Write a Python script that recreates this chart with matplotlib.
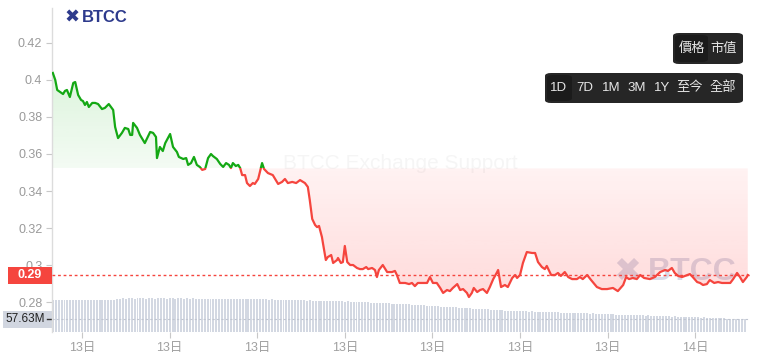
import numpy as np
import matplotlib
matplotlib.use("Agg")
import matplotlib.pyplot as plt
import matplotlib.transforms as mtrans
from matplotlib.patches import Rectangle, FancyBboxPatch
from matplotlib.colors import to_rgb

plt.rcParams['font.family'] = ['Liberation Sans', 'Noto Sans CJK TC', 'DejaVu Sans']

# ---------------- data ----------------
# minutes since 13日 00:00
times = [120, 125, 129, 135, 141, 145, 149, 155, 162, 166,
         172, 178, 182, 186, 190, 194, 201, 207, 213, 221,
         227, 235, 244, 248, 254, 262, 268, 275, 279, 283,
         285, 293, 299, 309, 314, 320, 326, 332, 334, 340,
         346, 351, 361, 367, 375, 379, 388, 394, 398, 404,
         410, 416, 422, 427, 433, 439, 445, 449, 457, 464,
         470, 476, 482, 486, 490, 496, 501, 505, 509, 515,
         519, 525, 531, 535, 542, 550, 554, 562, 572, 583,
         591, 597, 603, 612, 620, 628, 634, 638, 644, 648,
         653, 659, 663, 667, 673, 675, 681, 685, 692, 696,
         704, 706, 712, 716, 720, 725, 731, 737, 745, 751,
         757, 764, 768, 776, 782, 786, 790, 798, 807, 817,
         823, 827, 833, 844, 852, 858, 864, 870, 881, 889,
         895, 901, 909, 916, 922, 930, 936, 942, 951, 957,
         963, 971, 975, 981, 985, 992, 998, 1004, 1012, 1018,
         1025, 1033, 1035, 1041, 1049, 1055, 1064, 1070, 1074, 1080,
         1086, 1094, 1105, 1111, 1117, 1125, 1131, 1135, 1144, 1152,
         1158, 1164, 1172, 1179, 1187, 1197, 1203, 1209, 1218, 1226,
         1238, 1248, 1259, 1271, 1281, 1292, 1298, 1304, 1312, 1320,
         1327, 1335, 1347, 1357, 1368, 1378, 1384, 1392, 1398, 1405,
         1413, 1419, 1429, 1435, 1444, 1450, 1456, 1464, 1470, 1479,
         1487, 1495, 1505, 1512, 1518, 1526, 1532, 1538, 1546, 1548]

prices = [0.4038, 0.4000, 0.3946, 0.3935, 0.3924, 0.3941, 0.3946, 0.3908, 0.3984, 0.3989,
          0.3919, 0.3892, 0.3886, 0.3865, 0.3881, 0.3854, 0.3876, 0.3876, 0.3870, 0.3843,
          0.3849, 0.3870, 0.3838, 0.3746, 0.3686, 0.3714, 0.3741, 0.3735, 0.3703, 0.3703,
          0.3768, 0.3741, 0.3703, 0.3659, 0.3686, 0.3719, 0.3714, 0.3692, 0.3578, 0.3638,
          0.3616, 0.3659, 0.3708, 0.3638, 0.3611, 0.3584, 0.3573, 0.3578, 0.3541, 0.3551,
          0.3584, 0.3541, 0.3530, 0.3514, 0.3519, 0.3578, 0.3600, 0.3589, 0.3573, 0.3546,
          0.3530, 0.3551, 0.3541, 0.3524, 0.3551, 0.3535, 0.3541, 0.3524, 0.3486, 0.3486,
          0.3443, 0.3427, 0.3443, 0.3438, 0.3465, 0.3551, 0.3519, 0.3497, 0.3486, 0.3438,
          0.3449, 0.3465, 0.3443, 0.3449, 0.3443, 0.3459, 0.3449, 0.3443, 0.3422, 0.3351,
          0.3249, 0.3216, 0.3205, 0.3211, 0.3151, 0.3119, 0.3027, 0.3043, 0.3054, 0.3011,
          0.3027, 0.3038, 0.3011, 0.3016, 0.3103, 0.3016, 0.3000, 0.3000, 0.2984, 0.2978,
          0.2978, 0.2989, 0.2978, 0.2984, 0.2973, 0.2935, 0.2973, 0.3000, 0.2962, 0.2962,
          0.2968, 0.2946, 0.2903, 0.2903, 0.2897, 0.2903, 0.2886, 0.2903, 0.2903, 0.2903,
          0.2935, 0.2903, 0.2903, 0.2876, 0.2849, 0.2865, 0.2859, 0.2876, 0.2897, 0.2865,
          0.2870, 0.2849, 0.2827, 0.2849, 0.2876, 0.2854, 0.2865, 0.2870, 0.2849, 0.2881,
          0.2924, 0.2962, 0.2973, 0.2881, 0.2892, 0.2881, 0.2930, 0.2946, 0.2930, 0.2946,
          0.3011, 0.3070, 0.3065, 0.3065, 0.3016, 0.2989, 0.2978, 0.2995, 0.2946, 0.2946,
          0.2957, 0.2941, 0.2962, 0.2935, 0.2924, 0.2924, 0.2935, 0.2924, 0.2946, 0.2919,
          0.2881, 0.2870, 0.2870, 0.2876, 0.2859, 0.2892, 0.2935, 0.2924, 0.2930, 0.2924,
          0.2946, 0.2930, 0.2924, 0.2935, 0.2962, 0.2973, 0.2968, 0.2984, 0.2957, 0.2941,
          0.2935, 0.2941, 0.2951, 0.2935, 0.2908, 0.2903, 0.2892, 0.2897, 0.2919, 0.2903,
          0.2908, 0.2903, 0.2903, 0.2903, 0.2924, 0.2957, 0.2935, 0.2908, 0.2935, 0.2946]

baseline = 0.3522
last_price = 0.2946
last_label = "0.29"

vol_start = 120   # minutes
vol_step = 6      # minutes per bar
volumes = [70.4, 70.6, 70.5, 70.3, 70.6, 70.5, 70.4, 70.7, 70.5, 70.4,
           70.6, 70.5, 70.3, 70.5, 70.6, 70.4, 70.5, 70.7, 70.6, 70.5,
           70.6, 70.8, 71.0, 71.5, 71.6, 71.4, 71.7, 71.6, 71.5, 71.7,
           71.6, 71.8, 71.5, 71.6, 71.7, 71.5, 71.6, 71.8, 71.6, 71.5,
           71.7, 71.6, 71.5, 71.7, 71.6, 71.4, 71.6, 71.5, 71.7, 71.5,
           71.4, 71.3, 71.2, 71.3, 71.1, 71.2, 71.3, 71.2, 71.0, 71.2,
           71.1, 71.3, 71.2, 71.0, 71.2, 71.1, 71.2, 71.0, 71.1, 71.2,
           71.0, 71.1, 70.9, 71.0, 70.8, 70.9, 70.7, 70.8, 70.7, 70.6,
           70.7, 70.5, 70.6, 70.4, 70.5, 70.3, 70.4, 70.2, 70.3, 70.2,
           70.1, 70.2, 70.0, 70.1, 69.9, 70.0, 69.8, 69.9, 69.7, 69.6,
           69.5, 69.6, 69.3, 69.4, 69.2, 69.1, 69.2, 68.9, 69.0, 68.8,
           68.7, 68.8, 68.5, 68.6, 68.3, 68.4, 68.2, 68.0, 68.1, 67.8,
           67.9, 67.6, 67.7, 67.4, 67.3, 67.4, 67.1, 67.0, 66.8, 66.7,
           66.6, 66.4, 66.5, 66.2, 66.1, 65.9, 66.0, 65.7, 65.6, 65.4,
           65.5, 65.2, 65.1, 65.0, 64.8, 64.9, 64.6, 64.5, 64.3, 64.4,
           64.1, 64.0, 63.8, 63.6, 63.7, 63.5, 63.4, 63.5, 63.3, 63.2,
           63.3, 63.1, 63.0, 62.9, 63.0, 62.8, 62.7, 62.8, 62.6, 62.5,
           62.6, 62.4, 62.3, 62.4, 62.2, 62.1, 62.2, 62.0, 61.9, 62.0,
           61.8, 61.7, 61.8, 61.6, 61.5, 61.6, 61.4, 61.3, 61.2, 61.3,
           61.1, 61.0, 61.1, 60.9, 60.8, 60.9, 60.7, 60.6, 60.7, 60.5,
           60.4, 60.5, 60.3, 60.2, 60.3, 60.1, 60.0, 60.1, 59.9, 59.8,
           59.9, 59.7, 59.6, 59.7, 59.5, 59.4, 59.5, 59.3, 59.2, 59.3,
           59.1, 59.0, 58.9, 59.0, 58.8, 58.7, 58.6, 58.7, 58.5, 58.4,
           58.3, 58.2, 58.1, 58.0, 57.9, 57.8, 57.7, 57.63]
vol_last = 57.63
vol_label = "57.63M"

yticks = [0.28, 0.30, 0.32, 0.34, 0.36, 0.38, 0.40, 0.42]
ytick_labels = ["0.28", "0.3", "0.32", "0.34", "0.36", "0.38", "0.4", "0.42"]
xticks = [180, 360, 540, 720, 900, 1080, 1260, 1440]
xtick_labels = ["13日", "13日", "13日", "13日", "13日", "13日", "13日", "14日"]

mode_buttons = ["價格", "市值"]
period_buttons = ["1D", "7D", "1M", "3M", "1Y", "至今", "全部"]

# ---------------- figure ----------------
W, H = 760, 362
fig = plt.figure(figsize=(W / 100, H / 100), dpi=100)
fig.patch.set_facecolor('white')

def fr(x0, y0, x1, y1):
    """pixel box (top-left origin) -> figure fraction rect"""
    return [x0 / W, 1 - y1 / H, (x1 - x0) / W, (y1 - y0) / H]

ax = fig.add_axes(fr(52, 8, 750, 332))
axv = ax.twinx()
ax.set_zorder(2)
axv.set_zorder(1)
ax.patch.set_visible(False)

XMIN, XMAX = 118.3, 1552.6
YMIN, YMAX = 0.2638, 0.4389

GREEN = '#14a814'
RED = '#f5453e'

t = np.array(times, dtype=float)
p = np.array(prices, dtype=float)

def grad_fill(y1, color, a_near, a_far, lo, hi, above):
    coll = ax.fill_between(t, y1, baseline, facecolor='none', edgecolor='none')
    path = coll.get_paths()[0]
    n = 256
    if above:
        alphas = np.linspace(a_far, a_near, n)  # top row far from baseline
    else:
        alphas = np.linspace(a_near, a_far, n)
    img = np.zeros((n, 1, 4))
    img[..., :3] = to_rgb(color)
    img[..., 3] = alphas[:, None]
    im = ax.imshow(img, extent=[t[0], t[-1], lo, hi], origin='upper',
                   aspect='auto', zorder=1, interpolation='bilinear')
    im.set_clip_path(path, transform=ax.transData)

grad_fill(np.maximum(p, baseline), '#18b418', 0.05, 0.15, baseline, p.max(), True)
grad_fill(np.minimum(p, baseline), '#ff2a2a', 0.06, 0.17, p.min(), baseline, False)

# split-coloured line
lg, = ax.plot(t, p, color=GREEN, lw=1.6, zorder=5, solid_joinstyle='round')
lr, = ax.plot(t, p, color=RED, lw=1.6, zorder=5, solid_joinstyle='round')
clip_up = Rectangle((XMIN, baseline), XMAX - XMIN, 1.0, transform=ax.transData)
clip_dn = Rectangle((XMIN, baseline - 1.0), XMAX - XMIN, 1.0, transform=ax.transData)
lg.set_clip_path(clip_up)
lr.set_clip_path(clip_dn)

# current price line
ax.axhline(last_price, color=RED, lw=1.0, ls=(0, (2, 2)), zorder=4)

ax.set_xlim(XMIN, XMAX)
ax.set_ylim(YMIN, YMAX)

# volume
vt = vol_start + vol_step * np.arange(len(volumes))
axv.bar(vt, volumes, width=vol_step * 0.68, color='#d3d8e2', zorder=1)
axv.set_ylim(49.34, 263.9)
axv.set_xlim(XMIN, XMAX)
axv.set_yticks([])
axv.axhline(vol_last, color='#c0c5d0', lw=0.8, ls=(0, (2, 2)), zorder=2)

for a in (ax, axv):
    for s in a.spines.values():
        s.set_visible(False)
ax.spines['left'].set_visible(True)
ax.spines['left'].set_color('#dcdcdc')
ax.spines['left'].set_linewidth(1.0)

ax.set_yticks(yticks)
ax.set_yticklabels(ytick_labels)
ax.set_xticks(xticks)
ax.set_xticklabels(xtick_labels)
ax.tick_params(axis='y', length=4, color='#c8c8c8', labelcolor='#9a9a9a',
               labelsize=9, pad=3)
ax.tick_params(axis='x', length=4, color='#c8c8c8', labelcolor='#a0a0a0',
               labelsize=9, pad=3)
axv.tick_params(axis='x', length=0, labelbottom=False)

# price label box
bt = mtrans.blended_transform_factory(ax.transAxes, ax.transData)
h_p = 8.5 / 1850.0
ax.add_patch(Rectangle((-44 / 698, last_price - h_p), 44 / 698, 2 * h_p,
                       transform=bt, facecolor=RED, edgecolor='none',
                       clip_on=False, zorder=6))
ax.text(-22 / 698, last_price, last_label, transform=bt, ha='center', va='center',
        color='white', fontsize=9, fontweight='bold', zorder=7, clip_on=False)

# volume label box
btv = mtrans.blended_transform_factory(axv.transAxes, axv.transData)
h_v = 8.5 / 1.51
axv.add_patch(Rectangle((-49 / 698, vol_last - h_v), 49 / 698, 2 * h_v,
                        transform=btv, facecolor='#d1d6e0', edgecolor='none',
                        clip_on=False, zorder=6))
axv.text(-27 / 698, vol_last, vol_label, transform=btv, ha='center', va='center',
         color='#222222', fontsize=8.5, zorder=7, clip_on=False)
axv.plot([-5 / 698, -1 / 698], [vol_last, vol_last], transform=btv, color='#333333',
         lw=1, clip_on=False, zorder=7)

# watermarks
fig.text(400 / W, 1 - 164 / H, "BTCC Exchange Support", ha='center', va='center',
         fontsize=15, color=(0.55, 0.55, 0.55, 0.08), zorder=0)
fig.text(627 / W, 1 - 272 / H, "\u2716", ha='center', va='center',
         fontsize=24, color=(0.45, 0.50, 0.68, 0.28), family='DejaVu Sans', zorder=0)
fig.text(692 / W, 1 - 272 / H, "BTCC", ha='center', va='center',
         fontsize=23, fontweight='bold', color=(0.45, 0.50, 0.68, 0.28), zorder=0)

# logo
LOGO = '#2d3a8c'
fig.text(72 / W, 1 - 18 / H, "\u2716", ha='center', va='center', fontsize=13,
         color=LOGO, family='DejaVu Sans')
fig.text(82 / W, 1 - 18 / H, "BTCC", ha='left', va='center', fontsize=12,
         fontweight='bold', color=LOGO)

# buttons
def box(x0, y0, x1, y1, fc):
    fig.patches.append(FancyBboxPatch((x0 / W, 1 - y1 / H), (x1 - x0) / W, (y1 - y0) / H,
                                      boxstyle="round,pad=0,rounding_size=0.008",
                                      transform=fig.transFigure, facecolor=fc,
                                      edgecolor='none', zorder=10))

box(673, 33, 743, 64, '#262626')
box(675, 35, 708, 62, '#1b1b1b')
for lbl, cx in zip(mode_buttons, [692, 724]):
    fig.text(cx / W, 1 - 48.5 / H, lbl, ha='center', va='center', fontsize=9.5,
             color='#e6e6e6', zorder=11)

box(545, 73, 743, 103, '#262626')
box(547, 75, 572, 101, '#1b1b1b')
for lbl, cx in zip(period_buttons, [559, 585, 611, 637, 662, 690, 723]):
    fig.text(cx / W, 1 - 88 / H, lbl, ha='center', va='center', fontsize=9.5,
             color='#e6e6e6', zorder=11)

fig.savefig("out.png", dpi=100)
